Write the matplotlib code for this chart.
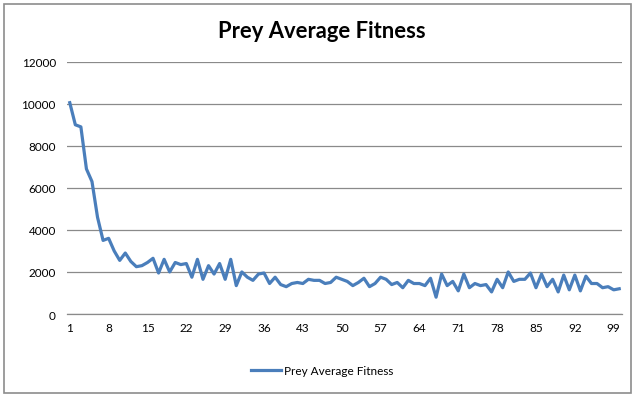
import matplotlib
matplotlib.use("Agg")
import matplotlib.pyplot as plt
from matplotlib.patches import Rectangle

# generation-by-generation average fitness of the prey population
generations = list(range(1, 101))
fitness = [
    10050, 9000, 8900, 6900, 6300, 4600, 3500, 3600, 3000, 2550,
    2900, 2500, 2250, 2300, 2450, 2650, 1950, 2600, 2000, 2450,
    2350, 2400, 1750, 2600, 1650, 2300, 1900, 2400, 1650, 2600,
    1350, 2000, 1750, 1600, 1900, 1950, 1450, 1750, 1400, 1300,
    1450, 1500, 1450, 1650, 1600, 1600, 1450, 1500, 1750, 1650,
    1550, 1350, 1500, 1700, 1300, 1450, 1750, 1650, 1400, 1500,
    1250, 1600, 1450, 1450, 1350, 1700, 800, 1900, 1350, 1550,
    1100, 1900, 1250, 1450, 1350, 1400, 1050, 1650, 1250, 2000,
    1550, 1650, 1650, 1950, 1250, 1900, 1300, 1650, 1050, 1850,
    1150, 1850, 1100, 1800, 1450, 1450, 1250, 1300, 1150, 1200,
]
x_ticks = list(range(1, 101, 7))
y_ticks = list(range(0, 12001, 2000))

W, H = 634, 402
fig = plt.figure(figsize=(W / 100, H / 100), dpi=100)
plt.rcParams['font.family'] = ['Lato', 'DejaVu Sans']

# chart area border
fig.patches.append(Rectangle((4 / W, 1 - 394 / H), 627 / W, 389 / H,
                             transform=fig.transFigure, fill=False,
                             edgecolor='#8c8c8c', linewidth=1.2))

ax = fig.add_axes([67 / W, 1 - 315 / H, 555 / W, 252.3 / H])
ax.plot(generations, fitness, color='#4a7ebb', linewidth=2.3,
        label='Prey Average Fitness', solid_joinstyle='round')

ax.set_xlim(0.5, 100.5)
ax.set_ylim(0, 12000)
ax.set_xticks(x_ticks)
ax.set_yticks(y_ticks)
ax.tick_params(length=0, labelsize=8.5, colors='black', pad=6)
ax.tick_params(axis='y', pad=8)
ax.yaxis.grid(True, color='#8a8a8a', linewidth=0.9)
ax.set_axisbelow(True)
for side in ['top', 'right', 'left']:
    ax.spines[side].set_visible(False)
ax.spines['bottom'].set_color('#8a8a8a')
ax.spines['bottom'].set_linewidth(0.9)

fig.text(322 / W, 1 - 32 / H, 'Prey Average Fitness', ha='center',
         va='center', fontsize=15.8, fontweight='bold')

fig.legend(loc='center', bbox_to_anchor=(322 / W, 1 - 372 / H),
           frameon=False, fontsize=8.5, handlelength=2.6,
           handletextpad=0.2)

fig.savefig('out.png', dpi=100)
